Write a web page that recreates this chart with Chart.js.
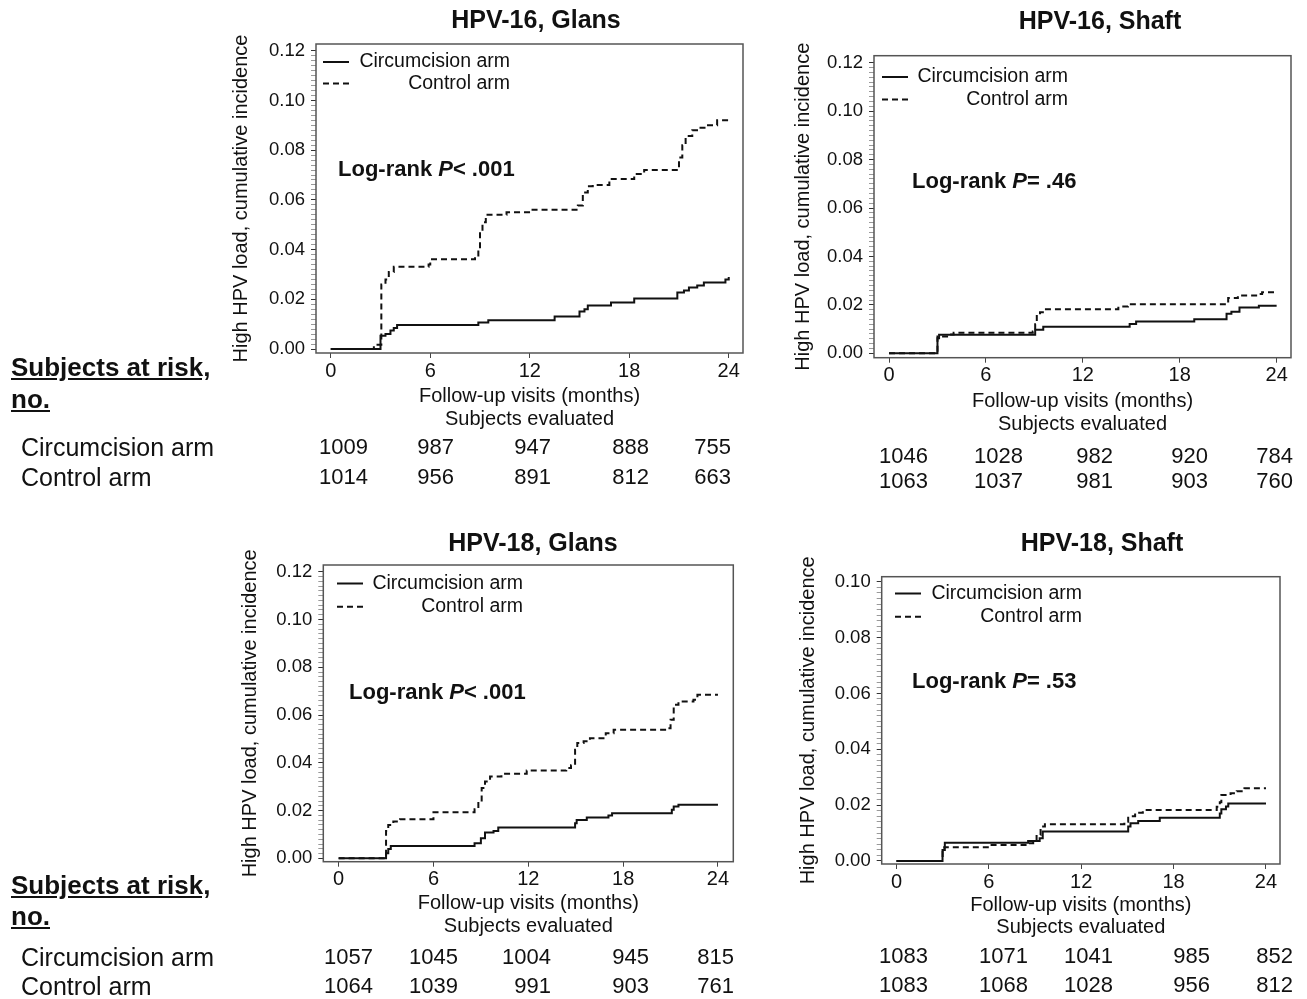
<!DOCTYPE html>
<html>
<head>
<meta charset="utf-8">
<script src="https://cdn.jsdelivr.net/npm/chart.js@4.4.0/dist/chart.umd.min.js"></script>
<style>
  html, body { margin: 0; padding: 0; background: #fff; }
  #page { position: relative; width: 1307px; height: 999px; overflow: hidden;
          font-family: "Liberation Sans", Arial, sans-serif; color: #111; }
  #page canvas { position: absolute; left: 0; top: 0; }
  .txt { position: absolute; white-space: nowrap; line-height: 1; transform: translateY(-50%); }
  .head { font-size: 26px; font-weight: bold; text-decoration: underline; }
  .row { font-size: 25px; }
  .num { font-size: 22px; transform: translate(-100%, -50%); }
</style>
</head>
<body>
<div id="page"></div>
<script>
// ── Data ────────────────────────────────────────────────────────────────────
const xTicks = [0, 6, 12, 18, 24];
const armNames = ['Circumcision arm', 'Control arm'];
const rowLabels = ['Circumcision arm', 'Control arm'];

// HPV-16, Glans
const g16CircT = [0, 3.0, 3.3, 3.6, 3.8, 4.0, 8.9, 9.5, 13.5, 15.0, 15.3, 15.5, 16.9, 18.3, 20.9, 21.3, 21.6, 22.1, 22.5, 23.8, 24];
const g16CircY = [0, 0.0053, 0.006, 0.0075, 0.0085, 0.0097, 0.0107, 0.0116, 0.0131, 0.0151, 0.016, 0.0175, 0.0187, 0.0203, 0.0227, 0.0235, 0.0247, 0.0256, 0.0268, 0.028, 0.029];
const g16CtrlT = [0, 2.6, 3.05, 3.3, 3.5, 3.8, 5.9, 6.0, 8.7, 8.9, 9.0, 9.15, 9.35, 10.6, 12.1, 14.9, 15.2, 15.5, 15.8, 16.8, 18.3, 18.9, 21.0, 21.2, 21.4, 21.8, 22.2, 22.6, 23.3, 23.9, 24];
const g16CtrlY = [0, 0.0017, 0.026, 0.028, 0.031, 0.0331, 0.034, 0.0361, 0.037, 0.0404, 0.047, 0.051, 0.054, 0.055, 0.056, 0.0577, 0.063, 0.0655, 0.066, 0.0684, 0.0704, 0.072, 0.077, 0.082, 0.0857, 0.088, 0.089, 0.090, 0.092, 0.093, 0.093];

// HPV-16, Shaft
const s16CircT = [0, 3.0, 3.1, 9.05, 9.55, 14.9, 15.3, 18.9, 20.9, 21.2, 21.7, 22.9, 24];
const s16CircY = [0, 0.0062, 0.0077, 0.0097, 0.011, 0.0121, 0.0131, 0.0141, 0.0163, 0.0172, 0.0189, 0.0197, 0.0197];
const s16CtrlT = [0, 3.0, 3.7, 4.0, 8.9, 9.05, 9.15, 9.35, 9.6, 14.2, 14.8, 21.0, 21.6, 22.9, 23.1, 24];
const s16CtrlY = [0, 0.007, 0.0078, 0.0085, 0.009, 0.012, 0.016, 0.017, 0.0182, 0.0193, 0.0203, 0.0228, 0.0239, 0.0245, 0.0252, 0.0252];

// HPV-18, Glans
const g18CircT = [0, 3.0, 3.14, 3.3, 8.6, 9.0, 9.26, 9.8, 10.1, 14.96, 15.06, 15.7, 17.07, 17.3, 21.08, 21.2, 21.5, 24];
const g18CircY = [0, 0.0021, 0.0039, 0.0052, 0.0063, 0.0084, 0.0108, 0.0115, 0.0129, 0.0147, 0.0161, 0.0171, 0.0179, 0.0189, 0.0203, 0.0217, 0.0224, 0.0224];
const g18CtrlT = [0, 3.0, 3.14, 3.46, 3.88, 6.0, 8.6, 8.84, 9.05, 9.26, 9.58, 10.3, 11.9, 14.4, 14.7, 14.96, 15.1, 15.5, 15.9, 16.9, 17.4, 20.8, 21.0, 21.2, 21.5, 22.45, 22.7, 24];
const g18CtrlY = [0, 0.0115, 0.014, 0.0154, 0.0164, 0.0193, 0.0206, 0.0238, 0.0294, 0.0322, 0.0343, 0.0354, 0.0368, 0.0378, 0.039, 0.0455, 0.0483, 0.049, 0.0503, 0.0524, 0.0538, 0.0545, 0.058, 0.0643, 0.0657, 0.0664, 0.0685, 0.0685];

// HPV-18, Shaft
const s18CircT = [0, 2.99, 3.14, 8.55, 9.3, 9.5, 15.05, 15.2, 15.7, 17.1, 21.0, 21.1, 21.4, 21.55, 24];
const s18CircY = [0, 0.0039, 0.0065, 0.0071, 0.0081, 0.0105, 0.0123, 0.0135, 0.0143, 0.0155, 0.017, 0.0185, 0.0195, 0.0206, 0.0206];
const s18CtrlT = [0, 3.0, 3.1, 6.06, 8.5, 8.88, 9.1, 9.36, 9.64, 14.8, 15.05, 15.5, 16.0, 20.8, 21.0, 21.1, 21.7, 22.1, 22.6, 24];
const s18CtrlY = [0, 0.004, 0.0049, 0.0057, 0.0063, 0.007, 0.0093, 0.0123, 0.0131, 0.014, 0.016, 0.0173, 0.0182, 0.0194, 0.021, 0.0236, 0.0242, 0.025, 0.026, 0.026];

// Subjects evaluated
const g16RiskCirc = [1009, 987, 947, 888, 755];
const g16RiskCtrl = [1014, 956, 891, 812, 663];
const s16RiskCirc = [1046, 1028, 982, 920, 784];
const s16RiskCtrl = [1063, 1037, 981, 903, 760];
const g18RiskCirc = [1057, 1045, 1004, 945, 815];
const g18RiskCtrl = [1064, 1039, 991, 903, 761];
const s18RiskCirc = [1083, 1071, 1041, 985, 852];
const s18RiskCtrl = [1083, 1068, 1028, 956, 812];

// ── Panels (layout) ─────────────────────────────────────────────────────────
const FONT = '"Liberation Sans", Arial, sans-serif';
const panels = [
  { title: 'HPV-16, Glans', pText: '< .001', yMax: 0.12,
    circ: [g16CircT, g16CircY], ctrl: [g16CtrlT, g16CtrlY], risk: [g16RiskCirc, g16RiskCtrl],
    box: { l: 316, r: 743, t: 44, b: 353 }, x: [-0.89, 24.86], y: [-0.0016, 0.1227],
    yTitlePad: 3.6, xH: 77.4, titleX: 536, titleY: 21,
    legX: 323, legR: 510, legY: 62, legGap: 21.6, logX: 338, logY: 170,
    riskRight: [368, 454, 551, 649, 731], riskY: [447, 477] },
  { title: 'HPV-16, Shaft', pText: '= .46', yMax: 0.12,
    circ: [s16CircT, s16CircY], ctrl: [s16CtrlT, s16CtrlY], risk: [s16RiskCirc, s16RiskCtrl],
    box: { l: 874, r: 1291, t: 55.7, b: 357.7 }, x: [-0.93, 24.89], y: [-0.0018, 0.1229],
    yTitlePad: 7.6, xH: 77.5, titleX: 1100, titleY: 22,
    legX: 882, legR: 1068, legY: 77, legGap: 22.6, logX: 912, logY: 182,
    riskRight: [928, 1023, 1113, 1208, 1293], riskY: [456, 481] },
  { title: 'HPV-18, Glans', pText: '< .001', yMax: 0.12,
    circ: [g18CircT, g18CircY], ctrl: [g18CtrlT, g18CtrlY], risk: [g18RiskCirc, g18RiskCtrl],
    box: { l: 323.3, r: 733.3, t: 565, b: 861.7 }, x: [-0.97, 24.97], y: [-0.0014, 0.1228],
    yTitlePad: 5.3, xH: 75.5, titleX: 533, titleY: 544,
    legX: 337, legR: 523, legY: 583.5, legGap: 23.2, logX: 349, logY: 693,
    riskRight: [373, 458, 551, 649, 734], riskY: [957, 986] },
  { title: 'HPV-18, Shaft', pText: '= .53', yMax: 0.10,
    circ: [s18CircT, s18CircY], ctrl: [s18CtrlT, s18CtrlY], risk: [s18RiskCirc, s18RiskCtrl],
    box: { l: 881.7, r: 1280, t: 576.7, b: 864 }, x: [-0.96, 24.91], y: [-0.0011, 0.1018],
    yTitlePad: 4.9, xH: 75, titleX: 1102, titleY: 544,
    legX: 895, legR: 1082, legY: 593.5, legGap: 23.2, logX: 912, logY: 682,
    riskRight: [928, 1028, 1113, 1210, 1293], riskY: [956, 985] }
];

const Y_W = 90;

function toPts(ts, vs) {
  return ts.map((t, i) => ({ x: t, y: vs[i] }));
}

function isMajor(v) {
  return Math.abs(Math.round(v / 0.02) * 0.02 - v) < 1e-6;
}

// box, in-plot legend, log-rank note and panel title
const panelDeco = {
  id: 'panelDeco',
  afterDatasetsDraw(chart, args, o) {
    const ctx = chart.ctx;
    const a = chart.chartArea;
    ctx.save();
    ctx.strokeStyle = '#555';
    ctx.lineWidth = 1.5;
    ctx.strokeRect(a.left, a.top, a.right - a.left, a.bottom - a.top);

    ctx.fillStyle = '#111';
    ctx.textBaseline = 'middle';
    ctx.font = 'bold 25px ' + FONT;
    ctx.textAlign = 'center';
    ctx.fillText(o.title, o.titleX, o.titleY);

    ctx.font = '19.5px ' + FONT;
    ctx.textAlign = 'right';
    chart.data.datasets.forEach((ds, i) => {
      const y = o.legY + i * o.legGap;
      ctx.strokeStyle = '#111';
      ctx.lineWidth = 2;
      ctx.setLineDash(ds.borderDash || []);
      ctx.beginPath();
      ctx.moveTo(o.legX, y);
      ctx.lineTo(o.legX + 26, y);
      ctx.stroke();
      ctx.fillText(ds.label, o.legR, y);
    });
    ctx.setLineDash([]);

    ctx.textAlign = 'left';
    let x = o.logX;
    [['Log-rank ', 'bold'], ['P', 'italic bold'], [o.pText, 'bold']].forEach(([s, w]) => {
      ctx.font = w + ' 22px ' + FONT;
      ctx.fillText(s, x, o.logY);
      x += ctx.measureText(s).width;
    });
    ctx.restore();
  }
};

Chart.defaults.font.family = FONT;
Chart.defaults.color = '#111';

const page = document.getElementById('page');

function addText(str, x, y, cls) {
  const d = document.createElement('div');
  d.className = 'txt ' + cls;
  d.textContent = str;
  d.style.left = x + 'px';
  d.style.top = y + 'px';
  page.appendChild(d);
}

function renderPanel(p) {
  const canvas = document.createElement('canvas');
  canvas.width = 1307;
  canvas.height = 999;
  page.appendChild(canvas);

  new Chart(canvas.getContext('2d'), {
    type: 'line',
    data: {
      datasets: [{
        label: armNames[0],
        data: toPts(p.circ[0], p.circ[1]),
        borderColor: '#111',
        borderWidth: 2,
        stepped: true,
        pointRadius: 0,
        fill: false
      }, {
        label: armNames[1],
        data: toPts(p.ctrl[0], p.ctrl[1]),
        borderColor: '#111',
        borderWidth: 2,
        borderDash: [6, 4],
        stepped: true,
        pointRadius: 0,
        fill: false
      }]
    },
    options: {
      responsive: false,
      animation: false,
      layout: {
        padding: { left: p.box.l - Y_W, top: p.box.t, right: 1307 - p.box.r, bottom: 999 - p.box.b - p.xH }
      },
      plugins: {
        legend: { display: false },
        tooltip: { enabled: false },
        title: { display: false },
        panelDeco: p
      },
      scales: {
        x: {
          type: 'linear',
          min: p.x[0],
          max: p.x[1],
          afterBuildTicks: s => { s.ticks = xTicks.map(v => ({ value: v })); },
          afterFit: s => { s.height = p.xH; s.paddingLeft = 0; s.paddingRight = 0; },
          grid: { drawOnChartArea: false, drawTicks: true, tickLength: 5, tickColor: '#444' },
          border: { display: false },
          ticks: { font: { size: 20 }, color: '#111', padding: 1, maxRotation: 0, autoSkip: false },
          title: {
            display: true,
            text: ['Follow-up visits (months)', 'Subjects evaluated'],
            font: { size: 20, lineHeight: 1.12 },
            color: '#111',
            padding: { top: 0, bottom: 0 }
          }
        },
        y: {
          type: 'linear',
          min: p.y[0],
          max: p.y[1],
          afterBuildTicks: s => {
            const t = [];
            for (let i = 0; i * 0.002 <= p.yMax + 1e-9; i++) t.push({ value: +(i * 0.002).toFixed(3) });
            s.ticks = t;
          },
          afterFit: s => { s.width = Y_W; s.paddingTop = 0; s.paddingBottom = 0; },
          grid: {
            drawOnChartArea: false,
            drawTicks: true,
            tickLength: 5,
            tickColor: c => isMajor(c.tick.value) ? '#333' : '#999',
            tickWidth: 1
          },
          border: { display: false },
          ticks: {
            font: { size: 18.5 },
            color: '#111',
            padding: 6,
            autoSkip: false,
            callback: v => isMajor(v) ? v.toFixed(2) : ''
          },
          title: {
            display: true,
            text: 'High HPV load, cumulative incidence',
            font: { size: 20 },
            color: '#111',
            padding: { top: p.yTitlePad - 0.6, bottom: 0 }
          }
        }
      }
    },
    plugins: [panelDeco]
  });

  p.risk.forEach((row, r) => {
    row.forEach((n, i) => addText(String(n), p.riskRight[i], p.riskY[r], 'num'));
  });
}

panels.forEach(renderPanel);

// ── Left-hand table labels ──────────────────────────────────────────────────
[[367, 399, 447, 477], [885, 916, 957, 986]].forEach(([h1, h2, r1, r2]) => {
  addText('Subjects at risk,', 11, h1, 'head');
  addText('no.', 11, h2, 'head');
  addText(rowLabels[0], 21, r1, 'row');
  addText(rowLabels[1], 21, r2, 'row');
});
</script>
</body>
</html>
